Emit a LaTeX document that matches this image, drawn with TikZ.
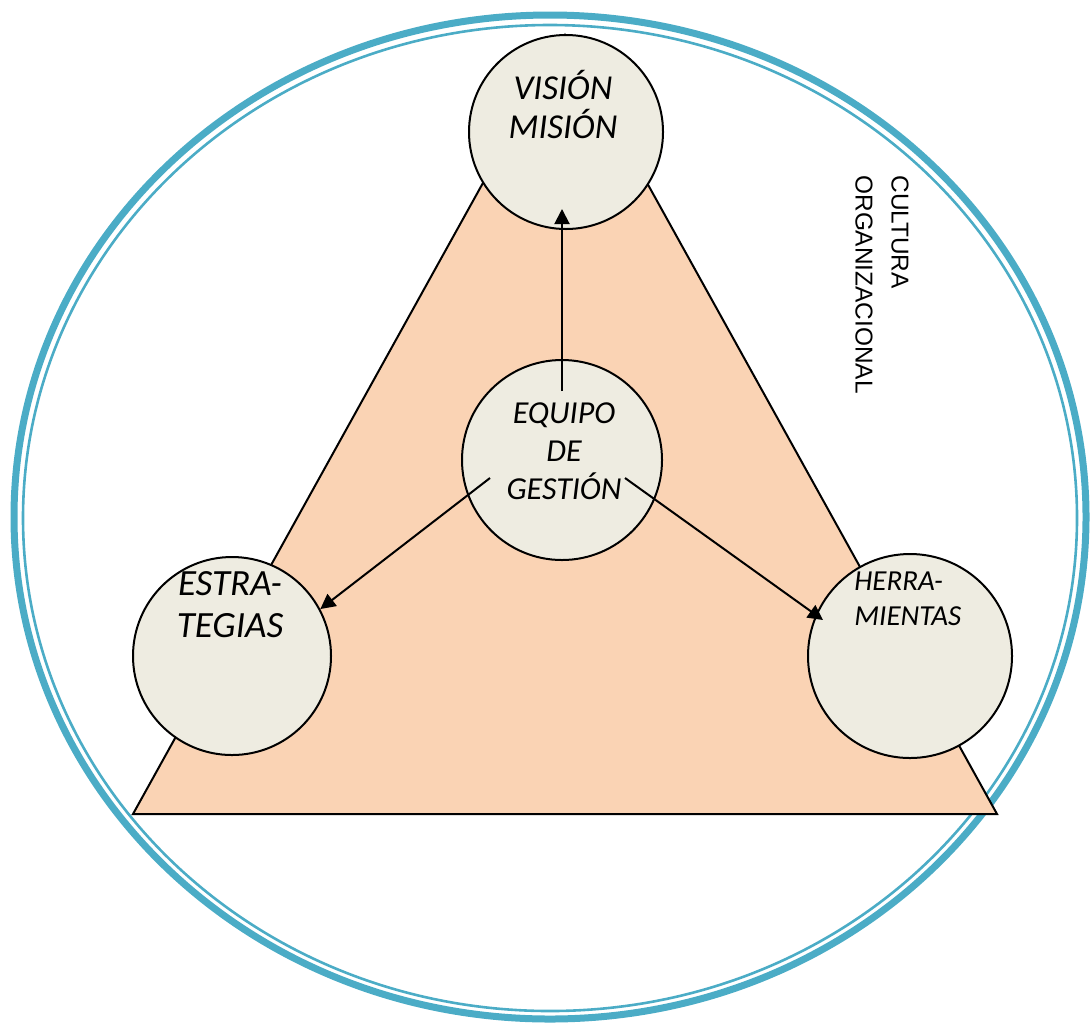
\documentclass[tikz,border=0pt]{standalone}
\usepackage{fontspec}
\newfontfamily\calfont{Carlito}
\newfontfamily\arialfont{Liberation Sans}
\usetikzlibrary{arrows.meta,calc,positioning}
\definecolor{cultblue}{HTML}{4BACC6}
\definecolor{peach}{HTML}{FAD3B4}
\definecolor{balltan}{HTML}{EEECE1}
\tikzset{ball/.style={circle,draw=black,fill=balltan,line width=1pt,inner sep=0pt},
lbl/.style={align=center,inner sep=0pt,font=\calfont\itshape}}

\begin{document}
\begin{tikzpicture}[x=0.5pt,y=-0.5pt]
\useasboundingbox (0,0) rectangle (1090,1024);
% outer ring
\draw[cultblue,line width=3.5pt] (550,517) ellipse [x radius=536,y radius=502];
\draw[cultblue,line width=1.3pt] (550,518) ellipse [x radius=527,y radius=493];
% triangle
\draw[fill=peach,line width=1pt,line join=miter] (133,814) -- (565,35) -- (997,814) -- cycle;
\node[ball,minimum size=97pt] (vm) at (566,132) {};
\node[ball,minimum size=100pt] (eq) at (562,460) {};
\node[ball,minimum size=99pt] (es) at (232,656) {};
\node[ball,minimum size=102pt] (he) at (910,656) {};
\node[lbl,anchor=base,font=\calfont\itshape\fontsize{17.5}{19.5}\selectfont] (vmt) at (563,138) {VISIÓN\\MISIÓN};
\node[lbl,anchor=base,font=\calfont\itshape\fontsize{16}{19}\selectfont] (eqt) at (564,499) {EQUIPO\\DE\\GESTIÓN};
\node[lbl,anchor=base,font=\calfont\itshape\fontsize{18.5}{21}\selectfont] (est) at (230,637) {ESTRA-\\TEGIAS};
\node[lbl,anchor=base west,align=left,font=\calfont\itshape\fontsize{14.5}{17.5}\selectfont] (het) at (854,625) {HERRA-\\MIENTAS};
\node[anchor=north west,rotate=-90,align=left,inner sep=0pt,font=\arialfont\fontsize{12.2}{18}\selectfont] (cu) at (909,175) {CULTURA\\ORGANIZACIONAL};
\path[->,>={Triangle[length=7.5pt,width=7.5pt]},line width=1pt]
([yshift=-16pt]eq.north) edge ([yshift=10.5pt]eq.north |- vm.south)
([shift={(-72,18)}]eq.center) edge (es.28)
([shift={(63,18)}]eq.center) edge ([shift={(-87,-36)}]he.center);
\end{tikzpicture}
\end{document}
